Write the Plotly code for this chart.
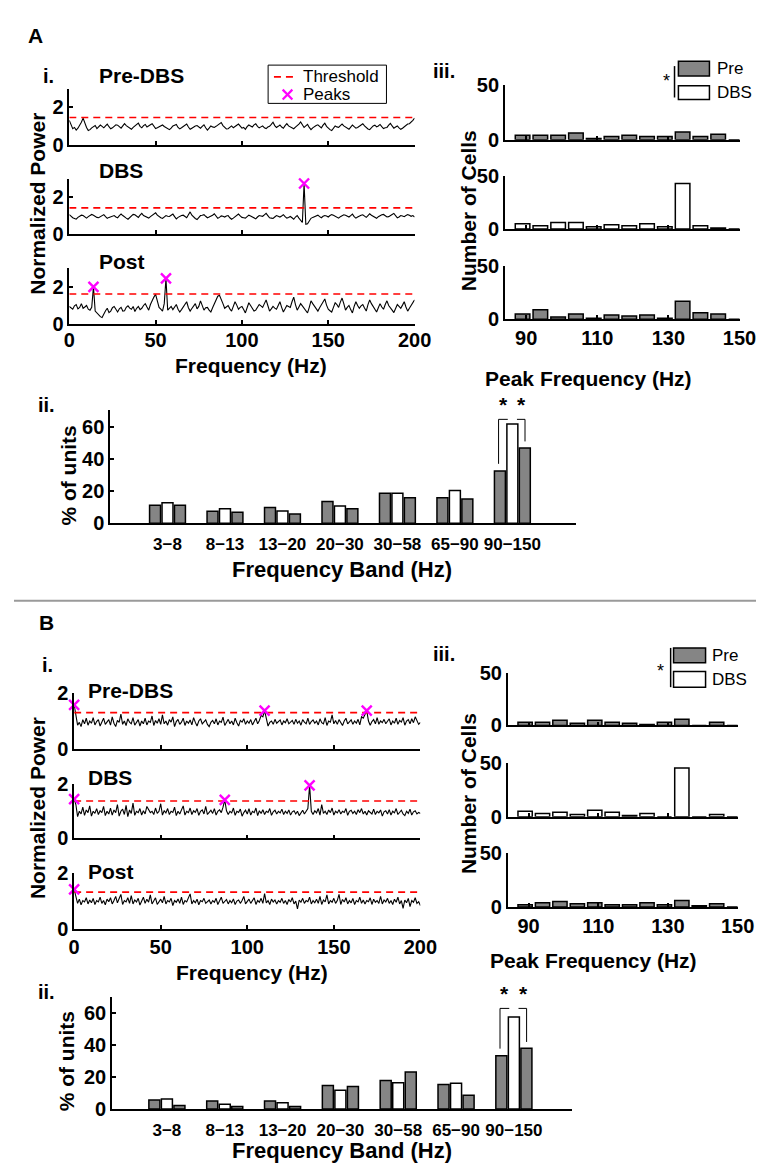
import plotly.graph_objects as go

W, H = 765, 1167
FONT = "Liberation Sans, Arial, Helvetica, sans-serif"

# ---------------- data ----------------
# Panel A (i): normalized power spectra, 1 Hz resolution (0..200 Hz)
spec_A_pre = [1.30,1.05,0.85,0.92,0.78,0.88,1.02,1.20,1.42,1.15,0.92,0.75,0.80,0.90,0.95,1.02,0.86,0.94,1.05,0.98,
              0.90,1.00,1.10,0.96,0.85,0.90,0.98,1.06,1.04,0.95,0.88,1.00,1.12,1.02,0.95,0.86,0.82,0.92,1.00,1.08,
              1.15,0.98,0.90,1.02,1.08,0.94,0.98,1.06,1.12,0.96,0.86,0.90,0.95,1.00,1.05,0.97,0.92,0.85,0.80,0.88,
              1.00,1.04,1.08,0.92,0.84,0.90,0.96,1.05,1.10,0.94,0.82,0.88,0.95,1.00,1.02,0.93,0.88,0.98,1.06,0.90,
              0.78,0.88,1.00,0.95,0.92,0.98,1.05,1.12,1.18,1.02,0.90,0.84,0.85,0.94,1.00,0.90,0.95,1.04,1.10,0.96,
              0.88,0.92,0.82,0.96,1.05,1.00,0.94,1.06,1.12,0.98,0.90,0.95,1.00,0.90,0.86,0.94,0.98,1.08,1.20,1.02,
              0.92,0.98,1.05,0.94,0.88,1.02,1.12,1.00,0.96,0.88,0.85,0.94,1.00,1.10,1.22,1.04,0.92,1.00,1.08,0.92,
              0.80,0.90,0.98,1.02,1.06,0.96,0.90,1.04,1.15,0.98,0.86,0.80,0.75,0.88,1.00,0.95,0.92,1.02,1.10,1.00,
              0.95,0.88,0.82,0.94,1.05,0.96,0.88,0.92,0.98,1.06,1.12,1.00,0.90,0.84,0.80,0.90,1.00,1.04,0.95,1.00,
              1.08,0.96,0.86,0.90,0.92,1.04,1.14,1.00,0.88,0.94,1.00,0.90,0.82,0.88,0.95,1.04,1.10,1.12,1.20,1.30,1.42]
spec_A_dbs = [1.05,0.95,0.88,0.84,0.80,0.90,0.95,1.02,1.00,0.92,0.86,0.94,0.98,1.06,1.02,0.94,0.90,0.88,0.95,1.00,
              1.05,0.94,0.85,0.90,0.92,0.98,1.00,0.92,0.88,1.00,1.08,1.00,0.95,0.86,0.80,0.90,0.98,1.06,1.04,0.96,
              0.90,1.02,1.12,1.00,0.95,0.88,0.86,0.94,1.00,1.08,1.15,1.02,0.92,0.88,0.85,0.94,1.00,0.96,0.95,1.02,
              1.08,0.94,0.82,0.90,0.96,1.00,1.02,0.94,0.88,1.04,1.20,1.02,0.90,0.84,0.78,0.90,1.00,1.02,1.05,0.96,
              0.88,0.92,0.95,1.02,1.10,0.96,0.85,0.90,0.98,0.96,0.92,0.98,1.00,0.88,0.80,0.86,0.95,1.02,1.08,0.98,
              0.90,0.88,0.86,0.94,1.02,0.98,0.94,0.88,0.82,0.92,1.00,0.98,0.96,1.04,1.12,1.00,0.88,0.86,0.84,0.92,
              1.00,0.96,0.92,0.98,1.05,0.94,0.86,0.90,0.95,0.88,0.80,0.92,1.00,0.86,0.70,0.62,2.75,0.52,0.55,0.70,
              0.85,0.90,0.95,1.00,1.02,0.94,0.88,0.96,1.00,0.98,0.92,1.00,1.05,1.02,0.98,0.90,0.86,0.94,1.00,1.04,
              1.02,0.96,0.92,1.00,1.08,0.94,0.86,0.92,0.98,1.02,1.04,0.96,0.90,1.00,1.10,1.02,0.95,0.88,0.85,0.94,
              1.00,1.04,1.06,0.98,0.92,0.94,0.98,1.06,1.12,0.96,0.88,0.92,1.00,0.98,0.94,1.00,1.05,1.02,0.96,1.00,0.92]
spec_A_post = [0.95,0.88,0.80,0.98,1.05,0.82,0.90,1.10,0.85,0.92,1.00,0.80,0.75,0.90,2.00,0.70,0.60,0.48,0.40,0.35,
               0.55,0.72,0.85,0.62,0.70,0.88,0.95,0.78,0.65,0.82,0.90,0.70,0.72,0.90,0.98,0.86,0.80,0.95,0.68,0.85,
               0.95,0.78,0.85,1.00,1.10,0.92,0.75,1.05,1.30,1.45,1.60,1.20,0.90,0.80,0.70,1.10,2.45,0.75,0.85,0.95,
               0.78,0.92,1.05,0.80,0.65,0.78,0.90,1.05,1.20,0.88,0.70,0.84,0.95,1.10,0.82,0.95,1.25,1.00,0.75,0.88,
               0.90,0.75,0.65,0.88,1.10,1.30,1.50,1.55,1.35,1.10,0.85,0.92,1.00,0.82,0.70,0.95,1.20,1.02,0.80,0.90,
               0.95,0.78,0.60,0.88,1.15,1.00,0.85,0.70,0.75,0.92,1.05,0.98,0.90,1.10,1.30,1.00,0.70,0.82,0.95,0.86,
               0.80,1.00,1.20,0.90,0.65,0.82,1.00,0.95,0.90,1.20,1.45,1.05,0.75,0.92,1.10,0.98,0.85,0.72,0.60,0.90,
               1.25,1.10,0.95,0.82,0.70,0.88,1.05,1.20,1.35,1.02,0.80,0.72,0.65,0.90,1.15,1.05,0.90,1.18,1.40,1.10,
               0.75,0.90,1.00,0.78,0.60,0.95,1.20,1.00,0.85,0.98,1.05,0.86,0.70,1.05,1.30,1.10,0.95,0.80,0.65,0.88,
               1.10,0.92,0.80,1.05,1.25,1.00,0.90,0.75,0.62,0.88,1.05,0.95,0.85,1.02,1.20,0.92,0.70,0.85,1.00,1.15,1.30]
thr_A = [1.45, 1.42, 1.62]
peaks_A = [[], [136], [14, 56]]

# Panel B (i): normalized power spectra, 1 Hz resolution
spec_B_pre = [1.58,1.20,0.85,0.95,0.80,1.05,0.90,1.10,0.85,1.00,0.92,1.12,0.86,0.98,1.05,0.82,1.00,1.10,0.88,0.95,
              1.05,0.85,1.15,0.92,0.80,1.02,0.95,1.25,0.88,1.00,0.84,1.08,0.96,0.90,1.12,0.85,0.98,1.05,0.82,1.00,
              0.90,1.10,0.86,1.00,0.95,1.18,0.84,1.02,0.92,1.08,0.88,1.22,0.90,1.00,0.85,1.05,0.96,1.15,0.80,0.98,
              1.06,0.88,0.96,1.10,0.84,1.00,0.92,1.04,0.86,1.12,0.95,0.82,1.00,1.08,0.90,0.98,1.04,0.88,0.80,0.95,
              1.02,0.90,1.08,0.86,1.00,0.95,1.14,0.84,0.98,1.06,0.90,1.00,0.86,1.10,0.94,0.82,1.02,0.96,1.08,0.88,
              1.00,0.92,1.05,0.86,0.98,1.10,0.90,1.02,1.20,1.15,1.37,1.05,0.82,0.95,1.00,0.88,1.06,0.92,0.98,1.04,
              0.86,1.00,0.94,1.08,0.90,0.98,1.02,0.88,1.06,0.92,1.00,0.85,1.05,0.96,0.90,1.10,0.88,0.98,1.04,0.92,
              1.00,0.86,1.08,0.94,0.90,1.12,0.84,1.00,0.96,1.22,0.90,1.02,0.88,1.05,0.95,0.84,1.00,1.10,0.90,0.98,
              1.04,0.88,1.00,0.92,1.06,0.86,1.15,1.10,1.25,1.37,1.00,0.85,0.98,1.05,0.90,1.12,0.88,1.00,0.94,1.06,
              0.90,0.98,1.08,0.86,1.00,0.92,1.10,0.88,1.02,0.96,1.12,0.85,1.00,1.05,0.90,1.08,0.94,1.15,1.02,0.88,0.95]
spec_B_dbs = [1.45,1.25,0.80,1.00,0.90,1.15,0.85,1.05,0.95,1.20,0.82,1.00,0.92,1.10,0.88,1.02,0.95,1.18,0.84,1.00,
              0.90,1.12,0.86,1.05,0.95,1.25,0.82,1.00,1.08,0.88,1.22,0.80,1.05,0.92,1.30,0.85,1.00,0.95,1.10,0.86,
              1.02,0.90,1.18,1.05,0.95,1.00,0.88,1.12,0.92,1.00,1.28,0.86,1.02,0.94,1.10,0.88,1.00,0.96,1.15,0.84,
              1.00,0.90,1.08,1.20,0.86,1.00,0.95,1.12,0.88,1.02,0.96,1.10,0.85,1.00,1.05,0.90,1.18,0.88,0.96,1.04,
              0.92,1.10,0.86,1.00,1.05,0.95,1.15,1.42,1.02,0.88,1.00,0.94,1.12,0.85,1.00,0.96,1.08,0.82,0.95,1.04,
              0.90,1.10,0.86,1.00,0.95,1.12,0.84,1.02,0.92,1.06,0.88,1.00,0.96,1.10,0.85,0.98,1.04,0.90,1.00,0.94,
              1.08,0.88,1.00,0.92,1.05,0.86,0.98,1.02,0.90,1.00,0.84,0.96,1.04,0.90,1.00,1.10,1.96,1.00,0.88,1.02,
              0.94,1.10,0.86,1.25,0.92,1.00,0.88,1.05,0.95,1.12,0.86,1.00,0.94,1.06,0.90,1.00,0.96,1.10,0.85,1.00,
              1.04,0.92,1.00,0.88,1.06,0.95,1.10,0.90,1.00,0.86,1.02,0.96,0.90,1.08,0.88,1.00,0.94,1.05,0.82,0.98,
              1.02,0.90,1.06,0.86,1.00,0.94,1.10,0.88,0.98,1.04,0.90,0.84,1.00,0.92,1.08,0.86,0.98,1.02,0.90,0.96,0.92]
spec_B_post = [1.40,1.15,0.90,1.05,0.85,1.00,0.95,1.10,0.88,1.02,0.92,1.08,0.86,1.00,0.95,1.12,0.90,1.00,0.85,1.05,
               0.96,1.10,0.88,1.00,1.15,0.92,1.05,1.22,0.86,1.00,0.95,1.10,0.90,1.18,0.88,1.02,0.95,1.08,0.84,1.00,
               1.12,0.90,1.05,0.94,1.20,0.88,1.00,1.10,0.86,0.98,1.05,0.92,1.15,0.88,1.00,0.95,1.08,0.82,1.00,0.94,
               1.06,0.90,1.12,0.86,1.00,0.95,1.10,1.24,0.88,1.00,0.92,1.05,0.85,1.00,0.96,1.08,0.90,0.98,1.02,0.88,
               1.00,0.94,1.08,0.86,1.00,1.12,0.90,0.96,1.04,0.88,1.00,0.92,1.06,0.86,0.98,1.02,0.90,1.00,1.15,0.88,
               0.96,1.05,0.90,1.00,1.10,0.86,1.00,0.94,1.08,0.90,1.25,0.92,1.00,0.86,1.05,0.95,1.02,0.88,1.00,0.94,
               1.08,0.90,1.00,0.86,1.04,0.95,1.10,0.88,0.98,0.70,1.02,0.94,1.08,0.90,1.00,0.96,1.12,0.88,1.00,0.92,
               1.05,0.90,1.15,0.86,1.02,0.95,1.20,0.88,1.00,0.94,1.08,0.90,1.00,1.22,0.86,1.04,0.95,1.10,0.88,1.00,
               0.92,1.08,0.86,1.00,0.95,1.12,0.90,1.02,0.88,1.00,0.96,1.10,0.86,1.05,0.94,1.00,0.90,1.15,0.88,1.02,
               0.95,1.08,0.90,1.00,0.86,1.05,0.94,1.12,0.88,1.00,0.72,1.02,0.92,1.08,0.78,1.00,0.94,1.10,0.90,0.96,0.82]
thr_B = [1.30, 1.38, 1.30]
peaks_B = [[0, 110, 169], [0, 87, 136], [0]]

freq_A = [i for i in range(len(spec_A_pre))]
freq_B = [i for i in range(len(spec_B_pre))]

# Panel (iii): histogram of peak frequencies (number of cells)
peak_bins = [89, 94, 99, 104, 109, 114, 119, 124, 129, 134, 139, 144, 149]
cells_A_pre  = [4, 4, 4, 6, 1, 3, 4, 3, 3, 7, 3, 5, 0]
cells_A_dbs  = [5, 3, 6, 6, 2, 4, 3, 5, 2, 43, 3, 1, 0]
cells_A_post = [5, 9, 2, 5, 1, 4, 3, 4, 1, 17, 6, 5, 0]
cells_B_pre  = [3, 3, 5, 2, 5, 3, 2, 1, 3, 6, 0, 3, 0]
cells_B_dbs  = [5, 3, 4, 2, 6, 4, 1, 3, 0, 45, 0, 2, 0]
cells_B_post = [2, 4, 5, 3, 4, 2, 2, 4, 2, 6, 1, 3, 0]

# Panel (ii): % of units per frequency band
bands = ["3−8", "8−13", "13−20", "20−30", "30−58", "65−90", "90−150"]
pct_A_pre  = [11.2, 7.5, 9.8, 13.6, 18.7, 15.9, 32.4]
pct_A_dbs  = [12.8, 9.1, 7.7, 10.8, 18.7, 20.3, 61.6]
pct_A_post = [11.2, 6.9, 5.7, 9.1, 15.9, 15.1, 46.8]
pct_B_pre  = [5.7, 5.0, 5.0, 14.7, 17.8, 15.4, 33.3]
pct_B_dbs  = [6.3, 3.0, 4.0, 11.7, 16.4, 16.2, 57.6]
pct_B_post = [2.2, 1.6, 1.6, 14.1, 23.2, 8.7, 38.0]

GRAY = "#858585"
RED = "#ff0000"
MAGENTA = "#ff00ff"

# ---------------- figure ----------------
fig = go.Figure()
lay = dict(width=W, height=H, margin=dict(l=0, r=0, t=0, b=0),
           paper_bgcolor="white", plot_bgcolor="rgba(0,0,0,0)",
           barmode="group", bargap=0.35, bargroupgap=0.12, showlegend=False)
shapes, annos = [], []

TICKFONT = dict(family=FONT, size=20, color="black", weight="bold")


def base_axis(**kw):
    d = dict(showline=True, linecolor="black", linewidth=1.5, ticks="inside", ticklen=4,
             tickwidth=1.5, tickcolor="black", showgrid=False, zeroline=False,
             tickfont=TICKFONT, fixedrange=True)
    d.update(kw)
    return d


counter = [0]


def new_axes(xpx, ypx, xkw, ykw):
    counter[0] += 1
    n = counter[0]
    s = "" if n == 1 else str(n)
    lay["xaxis" + s] = base_axis(domain=[xpx[0] / W, xpx[1] / W], anchor="y" + s, **xkw)
    lay["yaxis" + s] = base_axis(domain=[1 - ypx[1] / H, 1 - ypx[0] / H], anchor="x" + s, **ykw)
    return "x" + s, "y" + s


def spectrum(xpx, ypx, freqs, vals, thr, pk, yrange, labels, standoff=0):
    xr, yr = new_axes(xpx, ypx,
                      dict(range=[0, 200], tickvals=[0, 50, 100, 150, 200], showticklabels=labels,
                           ticklabelstandoff=standoff),
                      dict(range=yrange, tickvals=[0, 2]))
    fig.add_trace(go.Scatter(x=freqs, y=vals, mode="lines", line=dict(color="black", width=1.1),
                             xaxis=xr, yaxis=yr, hoverinfo="skip"))
    fig.add_trace(go.Scatter(x=[0, 200], y=[thr, thr], mode="lines", name="Threshold",
                             line=dict(color=RED, width=1.6, dash="7px,5px"),
                             xaxis=xr, yaxis=yr))
    py = [vals[freqs.index(f)] for f in pk]
    fig.add_trace(go.Scatter(x=pk, y=py, mode="markers", name="Peaks", cliponaxis=False,
                             marker=dict(symbol="x-thin", size=10, color=MAGENTA,
                                         line=dict(width=2.4, color=MAGENTA)),
                             xaxis=xr, yaxis=yr))


def hist_panel(xpx, ypx, vals, color, labels):
    xr, yr = new_axes(xpx, ypx,
                      dict(range=[84, 150], tickvals=[90, 110, 130, 150], showticklabels=labels),
                      dict(range=[0, 50], tickvals=[0, 50]))
    fig.add_trace(go.Bar(x=peak_bins, y=vals, width=4.1,
                         marker=dict(color=color, line=dict(color="black", width=1.5)),
                         xaxis=xr, yaxis=yr))


def band_panel(xpx, ypx, xrange, pre, dbs, post, sig_top):
    pos = list(range(1, len(bands) + 1))
    xr, yr = new_axes(xpx, ypx,
                      dict(range=xrange, tickvals=pos, ticktext=bands, ticks="",
                           tickfont=dict(family=FONT, size=17, color="black", weight="bold"),
                           ticklabelstandoff=5),
                      dict(range=[0, 70], tickvals=[0, 20, 40, 60]))
    for vals, col, nm in ((pre, GRAY, "Pre"), (dbs, "white", "DBS"), (post, GRAY, "Post")):
        fig.add_trace(go.Bar(x=pos, y=vals, name=nm,
                             marker=dict(color=col, line=dict(color="black", width=1.5)),
                             xaxis=xr, yaxis=yr))
    k = pos[dbs.index(max(dbs))]
    i = k - 1
    ln = dict(color="black", width=1)
    shapes.append(dict(type="line", xref=xr, yref=yr, x0=k - 0.24, x1=k - 0.24, y0=pre[i] + 4.5, y1=sig_top, line=ln))
    shapes.append(dict(type="line", xref=xr, yref=yr, x0=k - 0.24, x1=k - 0.08, y0=sig_top, y1=sig_top, line=ln))
    shapes.append(dict(type="line", xref=xr, yref=yr, x0=k + 0.08, x1=k + 0.22, y0=sig_top, y1=sig_top, line=ln))
    shapes.append(dict(type="line", xref=xr, yref=yr, x0=k + 0.22, x1=k + 0.22, y0=post[i] + 4, y1=sig_top, line=ln))
    for dx in (-0.16, 0.16):
        annos.append(dict(x=k + dx, y=sig_top + 1.0, xref=xr, yref=yr, text="*", showarrow=False,
                          yanchor="bottom", font=dict(family=FONT, size=21, color="black", weight="bold")))


def text(x, y, s, size=20, bold=True, xanchor="center", angle=0, color="black"):
    annos.append(dict(x=x / W, y=1 - y / H, xref="paper", yref="paper", text=s, showarrow=False,
                      xanchor=xanchor, yanchor="middle", textangle=angle,
                      font=dict(family=FONT, size=size, color=color,
                                weight="bold" if bold else "normal")))


def seg(x0, y0, x1, y1, color="black", width=1.5, dash=None):
    line = dict(color=color, width=width)
    if dash:
        line["dash"] = dash
    shapes.append(dict(type="line", xref="paper", yref="paper", x0=x0 / W, x1=x1 / W,
                       y0=1 - y0 / H, y1=1 - y1 / H, line=line))


def rect(x0, y0, x1, y1, fill, width=1.5):
    shapes.append(dict(type="rect", xref="paper", yref="paper", x0=x0 / W, x1=x1 / W,
                       y0=1 - y1 / H, y1=1 - y0 / H, fillcolor=fill,
                       line=dict(color="black", width=width)))


def iii_legend(bx0, bx1, pre_y, dbs_y, tx, lx, ly0, ly1, sx, sy):
    rect(bx0, pre_y[0], bx1, pre_y[1], GRAY)
    rect(bx0, dbs_y[0], bx1, dbs_y[1], "white")
    text(tx, (pre_y[0] + pre_y[1]) / 2, "Pre", size=17, bold=False, xanchor="left")
    text(tx, (dbs_y[0] + dbs_y[1]) / 2, "DBS", size=17, bold=False, xanchor="left")
    seg(lx, ly0, lx, ly1)
    text(sx, sy, "*", size=18, bold=False)


# ---------- Panel A ----------
spectrum((57, 413), (71, 128), freq_A, spec_A_pre, thr_A[0], peaks_A[0], [0, 3], False)
spectrum((57, 413), (163, 219), freq_A, spec_A_dbs, thr_A[1], peaks_A[1], [0, 3], False)
spectrum((57, 413), (254, 311), freq_A, spec_A_post, thr_A[2], peaks_A[2], [0, 3], True, standoff=-3)
hist_panel((506, 748), (67, 123), cells_A_pre, GRAY, False)
hist_panel((506, 748), (160, 214), cells_A_dbs, "white", False)
hist_panel((506, 748), (252, 306), cells_A_post, GRAY, True)
band_panel((99, 579), (399, 514), [0, 8.1], pct_A_pre, pct_A_dbs, pct_A_post, 64.5)

# legend of A(i)
rect(262, 47, 384, 86, "white", width=1)
seg(268, 59, 292, 59, color=RED, width=1.6, dash="7px,5px")
text(296, 59, "Threshold", size=17, bold=False, xanchor="left")
seg(277, 72, 287, 82, color=MAGENTA, width=2.2)
seg(277, 82, 287, 72, color=MAGENTA, width=2.2)
text(296, 77, "Peaks", size=17, bold=False, xanchor="left")

text(22, 17, "A", size=21)
text(36, 58, "i.", size=20)
text(86, 58, "Pre-DBS", size=21, xanchor="left")
text(86, 154, "DBS", size=21, xanchor="left")
text(86, 247, "Post", size=21, xanchor="left")
text(24, 188, "Normalized Power", size=21, angle=-90)
text(244, 353, "Frequency (Hz)", size=21)
text(443, 53, "iii.", size=20)
text(468, 195, "Number of Cells", size=21, angle=-90)
text(592, 366, "Peak Frequency (Hz)", size=21)
iii_legend(685, 717, (43, 58), (68, 82), 723, 681, 48, 80, 673, 63)
text(33, 393, "ii.", size=20)
text(56, 465, "% of units", size=21, angle=-90)
text(338, 561, "Frequency Band (Hz)", size=22)

# separator
seg(0, 593, W, 593, color="#9a9a9a", width=2)

# ---------- Panel B ----------
spectrum((62, 419), (687, 744), freq_B, spec_B_pre, thr_B[0], peaks_B[0], [0, 2], False)
spectrum((62, 419), (780, 835), freq_B, spec_B_dbs, thr_B[1], peaks_B[1], [0, 2], False)
spectrum((62, 419), (870, 927), freq_B, spec_B_post, thr_B[2], peaks_B[2], [0, 2], True)
hist_panel((509, 746), (667, 720), cells_B_pre, GRAY, False)
hist_panel((509, 746), (758, 813), cells_B_dbs, "white", False)
hist_panel((509, 746), (850, 905), cells_B_post, GRAY, True)
band_panel((101, 575), (997, 1111), [0.05, 8.0], pct_B_pre, pct_B_dbs, pct_B_post, 63.0)

text(34, 615, "B", size=21)
text(35, 658, "i.", size=20)
text(74, 684, "Pre-DBS", size=21, xanchor="left")
text(74, 773, "DBS", size=21, xanchor="left")
text(74, 869, "Post", size=21, xanchor="left")
text(25, 804, "Normalized Power", size=21, angle=-90)
text(245, 972, "Frequency (Hz)", size=21)
text(443, 647, "iii.", size=20)
text(468, 789, "Number of Cells", size=21, angle=-90)
text(597, 960, "Peak Frequency (Hz)", size=21)
iii_legend(680, 713, (641, 656), (665, 681), 718, 677, 641, 681, 667, 665)
text(33, 992, "ii.", size=20)
text(55, 1062, "% of units", size=21, angle=-90)
text(338, 1153, "Frequency Band (Hz)", size=22)

lay["shapes"] = shapes
lay["annotations"] = annos
fig.update_layout(**lay)
fig.write_html("out.html")
